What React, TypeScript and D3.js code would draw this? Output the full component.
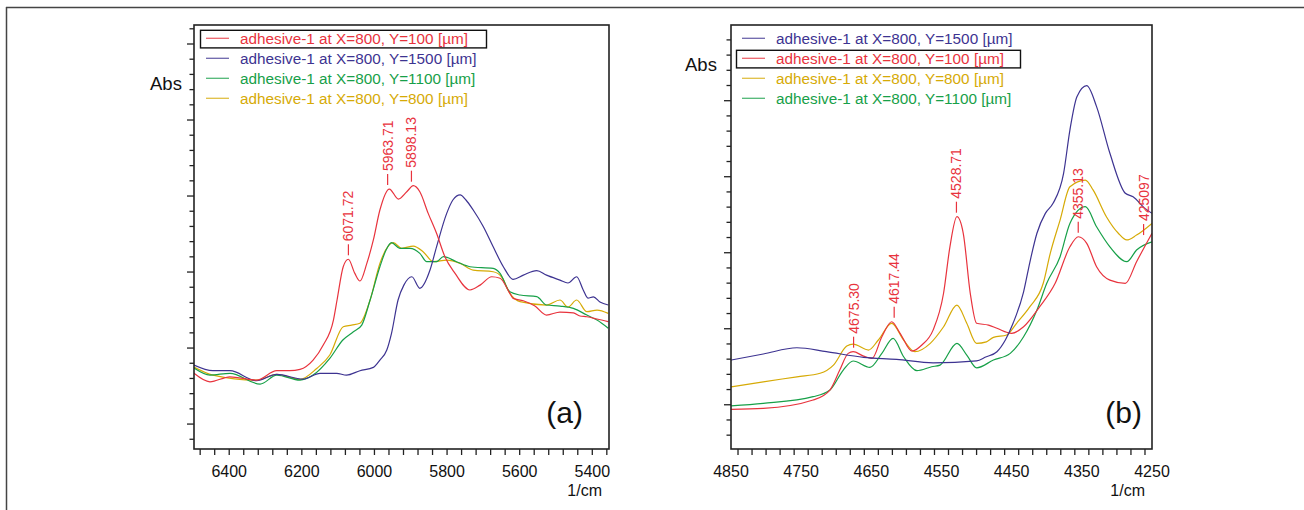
import React from "react";
import * as d3 from "d3";

type Pt = [number, number];

const RED = "#e8333d";
const BLUE = "#3d3391";
const GREEN = "#17a048";
const GOLD = "#d6aa06";

// panel (a): wavenumber [1/cm], absorbance
const redA: Pt[] = [
  [6497, 0.0834], [6453, 0.0778], [6398, 0.0811], [6325, 0.0789], [6269, 0.0851], [6233, 0.0851],
  [6205, 0.086], [6169, 0.0921], [6141, 0.102], [6113, 0.1184], [6103, 0.1316], [6086, 0.1535],
  [6072, 0.1584], [6054, 0.1491], [6040, 0.1441], [6021, 0.1557], [6003, 0.1711], [5985, 0.1908],
  [5959, 0.2046], [5934, 0.198], [5911, 0.2028], [5893, 0.2068], [5875, 0.2028], [5852, 0.1886],
  [5829, 0.1755], [5806, 0.1601], [5778, 0.1491], [5737, 0.1382], [5709, 0.1414], [5677, 0.1469],
  [5654, 0.1459], [5627, 0.136], [5618, 0.1327], [5590, 0.1311], [5558, 0.1276], [5526, 0.1217],
  [5489, 0.1237], [5452, 0.1232], [5434, 0.1211], [5415, 0.1206], [5387, 0.1191], [5356, 0.1173],
];
const blueA: Pt[] = [
  [6497, 0.0888], [6445, 0.0851], [6398, 0.0851], [6325, 0.0785], [6269, 0.0827], [6197, 0.0796],
  [6150, 0.0834], [6104, 0.0834], [6077, 0.0822], [6040, 0.0851], [6003, 0.0873], [5985, 0.0921],
  [5966, 0.0987], [5953, 0.1097], [5935, 0.1316], [5919, 0.1414], [5897, 0.1469], [5875, 0.1393],
  [5847, 0.1513], [5829, 0.1666], [5801, 0.1886], [5784, 0.1974], [5764, 0.2007], [5748, 0.1974],
  [5728, 0.1908], [5700, 0.1798], [5673, 0.1666], [5645, 0.1535], [5618, 0.1452], [5590, 0.148],
  [5553, 0.1509], [5526, 0.148], [5489, 0.1447], [5467, 0.1428], [5443, 0.1469], [5425, 0.1382],
  [5412, 0.1329], [5397, 0.1336], [5379, 0.1303], [5356, 0.1283],
];
const greenA: Pt[] = [
  [6497, 0.0868], [6453, 0.0822], [6398, 0.0834], [6315, 0.0763], [6269, 0.0822], [6205, 0.0789],
  [6169, 0.0822], [6123, 0.0932], [6087, 0.1053], [6058, 0.1107], [6035, 0.1151], [6012, 0.1316],
  [5985, 0.1535], [5968, 0.1645], [5953, 0.1693], [5930, 0.1656], [5902, 0.1656], [5875, 0.1623],
  [5856, 0.1568], [5829, 0.1568], [5810, 0.1601], [5774, 0.1568], [5737, 0.1535], [5673, 0.1524],
  [5654, 0.1491], [5627, 0.137], [5599, 0.1349], [5553, 0.1338], [5526, 0.1283], [5489, 0.1276],
  [5452, 0.1261], [5415, 0.1217], [5387, 0.1184], [5356, 0.113],
];
const goldA: Pt[] = [
  [6497, 0.0875], [6445, 0.0822], [6325, 0.0789], [6269, 0.0827], [6205, 0.0794], [6159, 0.0866],
  [6123, 0.0954], [6086, 0.114], [6063, 0.1151], [6040, 0.1163], [6012, 0.1316], [5985, 0.1557],
  [5948, 0.1693], [5925, 0.1656], [5893, 0.1671], [5866, 0.1634], [5838, 0.1568], [5801, 0.1579],
  [5764, 0.1557], [5728, 0.1513], [5673, 0.1502], [5650, 0.1469], [5627, 0.136], [5599, 0.1305],
  [5526, 0.1283], [5489, 0.1316], [5467, 0.127], [5443, 0.1316], [5415, 0.1239], [5387, 0.125],
  [5356, 0.1228],
];

// panel (b)
const blueB: Pt[] = [
  [4850, 0.1294], [4804, 0.1334], [4756, 0.1375], [4714, 0.1349], [4661, 0.1312], [4614, 0.1299],
  [4562, 0.1276], [4500, 0.1289], [4487, 0.1314], [4471, 0.1349], [4459, 0.1426], [4448, 0.1536],
  [4433, 0.1743], [4424, 0.1939], [4414, 0.2128], [4402, 0.2259], [4391, 0.2325], [4376, 0.2522],
  [4367, 0.2807], [4357, 0.3026], [4343, 0.3099], [4329, 0.2961], [4310, 0.2654], [4288, 0.2391],
  [4277, 0.2368], [4260, 0.2292], [4250, 0.2259],
];
const redB: Pt[] = [
  [4850, 0.097], [4804, 0.0976], [4733, 0.1031], [4709, 0.1097], [4695, 0.1228], [4683, 0.1338],
  [4676, 0.1349], [4661, 0.132], [4649, 0.1305], [4635, 0.1447], [4621, 0.1546], [4609, 0.147],
  [4592, 0.1353], [4578, 0.1393], [4562, 0.1491], [4547, 0.1735], [4538, 0.2039], [4528, 0.2237],
  [4519, 0.2128], [4509, 0.1733], [4500, 0.1536], [4483, 0.1524], [4471, 0.1503], [4450, 0.147],
  [4433, 0.1513], [4410, 0.1645], [4388, 0.1799], [4367, 0.2039], [4355, 0.2105], [4343, 0.2062],
  [4329, 0.1908], [4310, 0.182], [4288, 0.1799], [4272, 0.1941], [4250, 0.2128],
];
const goldB: Pt[] = [
  [4850, 0.1118], [4804, 0.1151], [4756, 0.1184], [4723, 0.1207], [4704, 0.1261], [4685, 0.1386],
  [4676, 0.1399], [4654, 0.136], [4640, 0.1426], [4621, 0.1536], [4604, 0.1426], [4588, 0.1349],
  [4566, 0.1404], [4547, 0.1513], [4528, 0.1656], [4514, 0.1536], [4500, 0.1404], [4486, 0.1414],
  [4476, 0.1443], [4457, 0.1459], [4443, 0.1536], [4424, 0.1645], [4405, 0.1799], [4395, 0.1996],
  [4381, 0.2215], [4367, 0.2434], [4345, 0.2478], [4334, 0.2413], [4315, 0.2237], [4298, 0.2128],
  [4286, 0.2084], [4272, 0.2116], [4250, 0.2193],
];
const greenB: Pt[] = [
  [4850, 0.0993], [4804, 0.1009], [4733, 0.1053], [4709, 0.1097], [4690, 0.1228], [4676, 0.1288],
  [4652, 0.1246], [4635, 0.1338], [4619, 0.1437], [4604, 0.1316], [4585, 0.1224], [4564, 0.125],
  [4552, 0.1261], [4528, 0.1404], [4514, 0.1327], [4500, 0.1243], [4476, 0.1294], [4452, 0.1338],
  [4433, 0.1447], [4414, 0.1623], [4400, 0.1799], [4381, 0.1974], [4367, 0.2193], [4345, 0.2303],
  [4329, 0.2171], [4310, 0.2039], [4286, 0.1941], [4272, 0.2018], [4250, 0.2072],
];

const xLabelsA = [6400, 6200, 6000, 5800, 5600, 5400];
const xLabelsB = [4850, 4750, 4650, 4550, 4450, 4350, 4250];

const peaksA: [number, number, string][] = [
  [6071.72, 0.1584, "6071.72"], [5963.71, 0.2046, "5963.71"], [5898.13, 0.2068, "5898.13"],
];
const peaksB: [number, number, string][] = [
  [4675.3, 0.1349, "4675.30"], [4617.44, 0.1546, "4617.44"], [4528.71, 0.2237, "4528.71"],
  [4355.13, 0.2105, "4355.13"], [4262, 0.209, "425097"],
];

const lbl = (y: string) => `adhesive-1 at X=800, Y=${y} [\u00b5m]`;

type Series = { name: string; color: string; data: Pt[] };

const seriesA: Series[] = [
  { name: lbl("100"), color: RED, data: redA },
  { name: lbl("1500"), color: BLUE, data: blueA },
  { name: lbl("1100"), color: GREEN, data: greenA },
  { name: lbl("800"), color: GOLD, data: goldA },
];
const seriesB: Series[] = [
  { name: lbl("1500"), color: BLUE, data: blueB },
  { name: lbl("100"), color: RED, data: redB },
  { name: lbl("800"), color: GOLD, data: goldB },
  { name: lbl("1100"), color: GREEN, data: greenB },
];

const FONT = "'Liberation Sans', Arial, Helvetica, sans-serif";

type PanelProps = {
  id: string;
  left: number; right: number; top: number; bottom: number;
  xDomain: [number, number]; yDomain: [number, number];
  xMinor: number; xLabels: number[];
  series: Series[]; boxed: number;
  peaks: [number, number, string][];
  tag: string; tagX: number; absX: number; absY: number;
  legendX: number; boxW: number;
};

function Panel(p: PanelProps) {
  const x = d3.scaleLinear().domain(p.xDomain).range([p.left, p.right]);
  const y = d3.scaleLinear().domain(p.yDomain).range([p.bottom, p.top]);
  const line = d3.line<Pt>().x((d) => x(d[0])).y((d) => y(d[1])).curve(d3.curveMonotoneX);

  const [hi, lo] = [p.xDomain[0], p.xDomain[1]];
  const xTicks = d3.range(Math.ceil(lo / p.xMinor), Math.floor(hi / p.xMinor) + 1).map((k) => k * p.xMinor);
  const yTicks = d3
    .range(Math.ceil(p.yDomain[0] * 100 - 1e-6), Math.floor(p.yDomain[1] * 100 + 1e-6) + 1)
    .map((k) => k);

  const rows = p.series.map((_, i) => p.top + 13.3 + i * 20);

  return (
    <g fontFamily={FONT}>
      <defs>
        <clipPath id={`clip-${p.id}`}>
          <rect x={p.left} y={p.top} width={p.right - p.left} height={p.bottom - p.top} />
        </clipPath>
      </defs>
      <g clipPath={`url(#clip-${p.id})`}>
        {[...p.series].reverse().map((s) => (
          <path key={s.name} d={line(s.data) || ""} fill="none" stroke={s.color} strokeWidth={1.2} />
        ))}
      </g>
      {/* y ticks */}
      {yTicks.map((k) => (
        <line key={k} x1={p.left} x2={p.left - (k % 5 === 0 ? 7 : 4.5)} y1={y(k / 100)} y2={y(k / 100)} stroke="#222" strokeWidth={1.3} />
      ))}
      {/* x ticks */}
      {xTicks.map((t) => (
        <line key={t} x1={x(t)} x2={x(t)} y1={p.bottom} y2={p.bottom + 6} stroke="#222" strokeWidth={1.3} />
      ))}
      {p.xLabels.map((t) => (
        <text key={t} x={x(t)} y={476.5} fontSize={16} textAnchor="middle" fill="#111">{t}</text>
      ))}
      <text x={p.right - 7} y={496} fontSize={16} textAnchor="end" fill="#111">1/cm</text>
      <text x={p.absX} y={p.absY} fontSize={18.5} fill="#111">Abs</text>
      <rect x={p.left} y={p.top} width={p.right - p.left} height={p.bottom - p.top} fill="none" stroke="#222" strokeWidth={1.6} />
      {/* legend */}
      {p.series.map((s, i) => (
        <g key={s.name}>
          <line x1={p.legendX} x2={p.legendX + 23} y1={rows[i]} y2={rows[i]} stroke={s.color} strokeWidth={1.3} opacity={0.75} />
          <text x={p.legendX + 34} y={rows[i] + 5.6} fontSize={15.3} fill={s.color}>{s.name}</text>
        </g>
      ))}
      <rect x={p.legendX - 5.5} y={rows[p.boxed] - 8} width={p.boxW} height={17.6} fill="none" stroke="#111" strokeWidth={1.4} />
      {/* peak labels */}
      {p.peaks.map(([wn, v, t]) => (
        <g key={t}>
          <line x1={x(wn)} x2={x(wn)} y1={y(v) - 4} y2={y(v) - 15} stroke={RED} strokeWidth={1.2} />
          <text transform={`translate(${x(wn)},${y(v) - 18}) rotate(-90)`} dy="0.36em" fontSize={14} fill={RED}>{t}</text>
        </g>
      ))}
      <text x={p.tagX} y={423} fontSize={30} textAnchor="end" fill="#111">{p.tag}</text>
    </g>
  );
}

export default function App() {
  return (
    <svg width={1304} height={510} style={{ position: "absolute", left: 0, top: 0, background: "#fff" }}>
      <line x1={6} x2={1304} y1={7.5} y2={7.5} stroke="#444" strokeWidth={1.5} />
      <line x1={6.5} x2={6.5} y1={7} y2={510} stroke="#444" strokeWidth={1.5} />
      <Panel
        id="a" left={194} right={609} top={25} bottom={449}
        xDomain={[6497, 5354]} yDomain={[0.0336, 0.3125]}
        xMinor={40} xLabels={xLabelsA}
        series={seriesA} boxed={0} peaks={peaksA}
        tag="(a)" tagX={583} absX={150} absY={90}
        legendX={206} boxW={286}
      />
      <Panel
        id="b" left={731} right={1152} top={25} bottom={449}
        xDomain={[4850, 4250]} yDomain={[0.0709, 0.3498]}
        xMinor={20} xLabels={xLabelsB}
        series={seriesB} boxed={1} peaks={peaksB}
        tag="(b)" tagX={1142} absX={685} absY={71}
        legendX={742} boxW={284}
      />
    </svg>
  );
}
